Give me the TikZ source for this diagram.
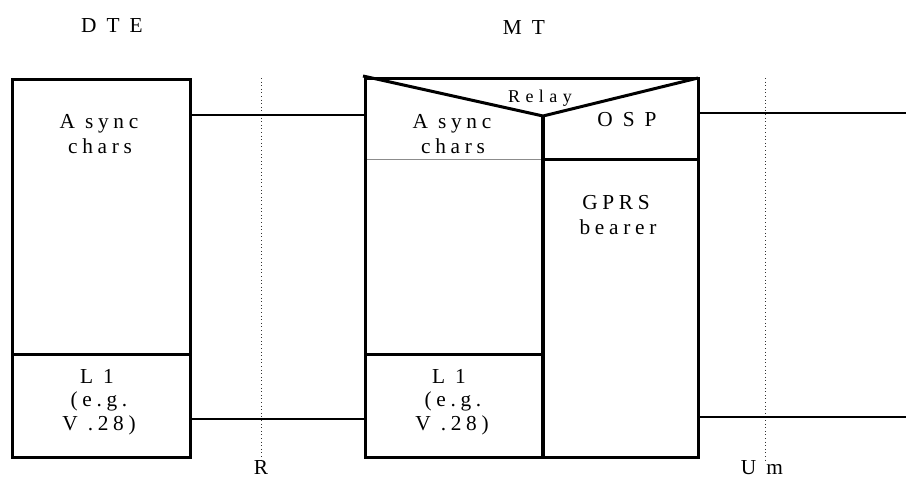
\documentclass[tikz,border=0pt]{standalone}
\usepackage{fontspec}
\setmainfont{Liberation Serif}
\newfontfamily\spc[LetterSpace=22]{Liberation Serif}
\newfontfamily\spcr[LetterSpace=30]{Liberation Serif}
\begin{document}
\begin{tikzpicture}[x=0.75pt,y=-0.75pt,
  boxline/.style={line width=2.25pt},
  midline/.style={line width=3pt},
  link/.style={line width=1.5pt},
  linkr/.style={line width=1.1pt},
  refline/.style={line width=0.7pt,dotted,black!80},
  thinline/.style={line width=0.75pt,black!45},
  txt/.style={inner sep=0pt,anchor=base,font=\spc\fontsize{16}{19}\selectfont},
  hdr/.style={inner sep=0pt,anchor=base,font=\spc\fontsize{16}{19}\selectfont},
  rly/.style={inner sep=0pt,anchor=base,font=\spcr\fontsize{13.5}{16}\selectfont}]
\useasboundingbox (0,0) rectangle (906,479);
\fill[white] (0,0) rectangle (906,479);

% headers
\node[hdr] (hDTE) at (112,32) {D T E};
\node[hdr] (hMT) at (524,34) {M T};

% reference points
\coordinate (rTop) at (261,78);
\coordinate (rBot) at (261,462);
\coordinate (uTop) at (765,78);
\coordinate (uBot) at (765,462);
\draw[refline] (rTop) -- (rBot);
\draw[refline] (uTop) -- (uBot);
\node[hdr] (lR) at (261,474) {R};
\node[hdr] (lUm) at (762,474) {U m};

% DTE stack
\coordinate (dteTL) at (12,79);
\coordinate (dteBR) at (190,457);
\coordinate (dteDivL) at (12,354);
\coordinate (dteDivR) at (190,354);
\draw[boxline] (dteTL) rectangle (dteBR);
\draw[boxline] (dteDivL) -- (dteDivR);
\node[txt] (dA1) at (99,128) {A sync};
\node[txt] (dA2) at (100,153) {chars};
\node[txt] (dL1) at (97,383) {L 1};
\node[txt] (dL2) at (99,406) {(e.g.};
\node[txt] (dL3) at (99,430) {V .28)};

% MT stack
\coordinate (mtTL) at (365,78);
\coordinate (mtBR) at (698,457);
\coordinate (mtMidTop) at (543,116);
\coordinate (mtMidBot) at (543,457);
\coordinate (relL) at (363,76);
\coordinate (relR) at (698,78);
\coordinate (asyDivL) at (365,159);
\coordinate (asyDivR) at (543,159);
\coordinate (ospDivR) at (698,159);
\coordinate (l1DivL) at (365,354);
\coordinate (l1DivR) at (543,354);
\draw[thinline] (asyDivL) -- (asyDivR);
\draw[boxline] (mtTL) rectangle (mtBR);
\draw[midline] (mtMidTop) -- (mtMidBot);
\draw[boxline] (asyDivR) -- (ospDivR);
\draw[boxline] (l1DivL) -- (l1DivR);
\draw[boxline,line join=miter] (relL) -- (mtMidTop) -- (relR);
\node[rly] (tRelay) at (540,102) {Relay};
\node[txt] (mA1) at (452,128) {A sync};
\node[txt] (mA2) at (453,153) {chars};
\node[txt] (mOSP) at (627,126) {O S P};
\node[txt] (mG1) at (616,209) {GPRS};
\node[txt] (mG2) at (618,234) {bearer};
\node[txt] (mL1) at (449,383) {L 1};
\node[txt] (mL2) at (453,406) {(e.g.};
\node[txt] (mL3) at (452,430) {V .28)};

% connectors
\coordinate (dteAsyR) at (190,115);
\coordinate (mtAsyL) at (365,115);
\coordinate (dteL1R) at (190,419);
\coordinate (mtL1L) at (365,419);
\coordinate (mtOspR) at (698,113);
\coordinate (umOspEnd) at (906,113);
\coordinate (mtGprsR) at (698,417);
\coordinate (umGprsEnd) at (906,417);
\draw[link] (dteAsyR) -- (mtAsyL);
\draw[link] (dteL1R) -- (mtL1L);
\draw[linkr] (mtOspR) -- (umOspEnd);
\draw[linkr] (mtGprsR) -- (umGprsEnd);
\end{tikzpicture}
\end{document}
